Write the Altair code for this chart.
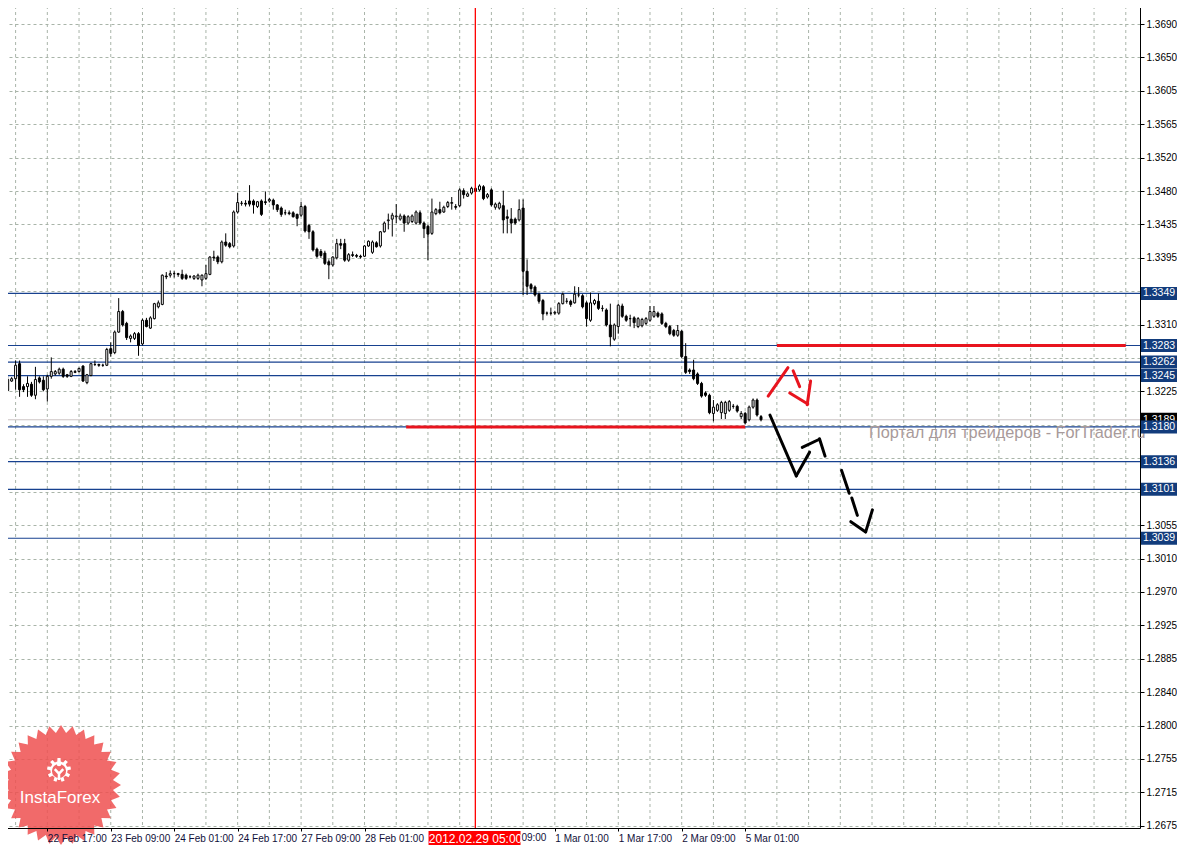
import math
import altair as alt
import pandas as pd

# ---------------- data (EURUSD H1, first bar = 22 Feb 07:00) ----------------
opens = [
    1.3226, 1.3238, 1.3241, 1.3260, 1.3231, 1.3231, 1.3234, 1.3220, 1.3242, 1.3239,
    1.3228, 1.3244, 1.3247, 1.3248, 1.3253, 1.3246, 1.3244, 1.3249, 1.3250, 1.3257,
    1.3236, 1.3245, 1.3259, 1.3259, 1.3258, 1.3258, 1.3279, 1.3274, 1.3300, 1.3326,
    1.3311, 1.3292, 1.3292, 1.3298, 1.3285, 1.3315, 1.3305, 1.3317, 1.3332, 1.3335,
    1.3371, 1.3372, 1.3374, 1.3374, 1.3373, 1.3372, 1.3370, 1.3368, 1.3368, 1.3366,
    1.3368, 1.3373, 1.3395, 1.3395, 1.3389, 1.3414, 1.3412, 1.3409, 1.3452, 1.3463,
    1.3463, 1.3466, 1.3466, 1.3459, 1.3466, 1.3465, 1.3466, 1.3467, 1.3461, 1.3457,
    1.3451, 1.3451, 1.3451, 1.3449, 1.3448, 1.3459, 1.3435, 1.3427, 1.3405, 1.3402,
    1.3400, 1.3389, 1.3385, 1.3394, 1.3412, 1.3412, 1.3391, 1.3398, 1.3397, 1.3396,
    1.3396, 1.3409, 1.3401, 1.3413, 1.3409, 1.3427, 1.3441, 1.3443, 1.3446, 1.3443,
    1.3447, 1.3438, 1.3440, 1.3438, 1.3451, 1.3438, 1.3434, 1.3425, 1.3450, 1.3455,
    1.3452, 1.3459, 1.3463, 1.3459, 1.3460, 1.3479, 1.3472, 1.3476, 1.3478, 1.3480,
    1.3484, 1.3471, 1.3480, 1.3458, 1.3457, 1.3460, 1.3446, 1.3443, 1.3443, 1.3442,
    1.3457, 1.3377, 1.3360, 1.3357, 1.3348, 1.3340, 1.3324, 1.3324, 1.3324, 1.3324,
    1.3336, 1.3339, 1.3339, 1.3337, 1.3347, 1.3346, 1.3337, 1.3315, 1.3336, 1.3339,
    1.3330, 1.3328, 1.3309, 1.3291, 1.3307, 1.3333, 1.3320, 1.3317, 1.3318, 1.3307,
    1.3308, 1.3311, 1.3315, 1.3320, 1.3324, 1.3323, 1.3311, 1.3307, 1.3302, 1.3296,
    1.3301, 1.3269, 1.3252, 1.3252, 1.3247, 1.3235, 1.3223, 1.3220, 1.3197, 1.3201,
    1.3198, 1.3197, 1.3201, 1.3206, 1.3206, 1.3193, 1.3197, 1.3189, 1.3205, 1.3214,
    1.3193,
]
highs = [
    1.3244, 1.3243, 1.3264, 1.3264, 1.3234, 1.3244, 1.3237, 1.3256, 1.3244, 1.3244,
    1.3246, 1.3268, 1.3252, 1.3255, 1.3255, 1.3247, 1.3252, 1.3252, 1.3255, 1.3258,
    1.3247, 1.3261, 1.3264, 1.3260, 1.3260, 1.3280, 1.3287, 1.3302, 1.3343, 1.3328,
    1.3313, 1.3297, 1.3300, 1.3300, 1.3317, 1.3318, 1.3320, 1.3337, 1.3340, 1.3373,
    1.3376, 1.3378, 1.3377, 1.3375, 1.3379, 1.3374, 1.3372, 1.3372, 1.3374, 1.3373,
    1.3385, 1.3396, 1.3403, 1.3397, 1.3416, 1.3425, 1.3414, 1.3454, 1.3476, 1.3466,
    1.3467, 1.3486, 1.3468, 1.3466, 1.3468, 1.3478, 1.3470, 1.3469, 1.3462, 1.3459,
    1.3455, 1.3454, 1.3453, 1.3450, 1.3465, 1.3461, 1.3437, 1.3429, 1.3407, 1.3405,
    1.3403, 1.3392, 1.3396, 1.3418, 1.3418, 1.3418, 1.3400, 1.3402, 1.3399, 1.3398,
    1.3410, 1.3416, 1.3416, 1.3415, 1.3428, 1.3440, 1.3450, 1.3451, 1.3462, 1.3450,
    1.3449, 1.3448, 1.3449, 1.3454, 1.3454, 1.3440, 1.3436, 1.3469, 1.3457, 1.3465,
    1.3460, 1.3466, 1.3471, 1.3462, 1.3482, 1.3482, 1.3477, 1.3484, 1.3484, 1.3487,
    1.3486, 1.3476, 1.3482, 1.3464, 1.3465, 1.3479, 1.3455, 1.3457, 1.3445, 1.3468,
    1.3468, 1.3392, 1.3362, 1.3359, 1.3350, 1.3342, 1.3326, 1.3331, 1.3327, 1.3338,
    1.3350, 1.3343, 1.3341, 1.3358, 1.3357, 1.3348, 1.3339, 1.3350, 1.3342, 1.3349,
    1.3334, 1.3330, 1.3336, 1.3311, 1.3336, 1.3336, 1.3322, 1.3322, 1.3320, 1.3319,
    1.3318, 1.3319, 1.3333, 1.3333, 1.3326, 1.3325, 1.3313, 1.3309, 1.3304, 1.3309,
    1.3303, 1.3286, 1.3254, 1.3265, 1.3249, 1.3237, 1.3225, 1.3222, 1.3214, 1.3210,
    1.3213, 1.3213, 1.3214, 1.3209, 1.3208, 1.3200, 1.3199, 1.3207, 1.3216, 1.3216,
    1.3195,
]
lows = [
    1.3225, 1.3237, 1.3227, 1.3218, 1.3224, 1.3218, 1.3218, 1.3215, 1.3235, 1.3225,
    1.3212, 1.3241, 1.3245, 1.3246, 1.3242, 1.3242, 1.3243, 1.3248, 1.3249, 1.3237,
    1.3234, 1.3244, 1.3257, 1.3256, 1.3256, 1.3257, 1.3269, 1.3272, 1.3299, 1.3307,
    1.3290, 1.3287, 1.3290, 1.3270, 1.3283, 1.3306, 1.3304, 1.3316, 1.3330, 1.3334,
    1.3367, 1.3369, 1.3369, 1.3370, 1.3366, 1.3366, 1.3368, 1.3366, 1.3366, 1.3358,
    1.3366, 1.3372, 1.3390, 1.3386, 1.3387, 1.3408, 1.3406, 1.3407, 1.3450, 1.3460,
    1.3459, 1.3459, 1.3450, 1.3457, 1.3447, 1.3461, 1.3464, 1.3455, 1.3452, 1.3446,
    1.3448, 1.3448, 1.3445, 1.3434, 1.3446, 1.3426, 1.3418, 1.3402, 1.3394, 1.3394,
    1.3385, 1.3367, 1.3383, 1.3392, 1.3405, 1.3389, 1.3389, 1.3395, 1.3394, 1.3393,
    1.3395, 1.3408, 1.3399, 1.3407, 1.3407, 1.3426, 1.3430, 1.3421, 1.3438, 1.3441,
    1.3427, 1.3436, 1.3438, 1.3436, 1.3436, 1.3419, 1.3391, 1.3423, 1.3448, 1.3449,
    1.3451, 1.3457, 1.3455, 1.3455, 1.3458, 1.3469, 1.3471, 1.3474, 1.3477, 1.3478,
    1.3467, 1.3469, 1.3459, 1.3455, 1.3455, 1.3425, 1.3425, 1.3425, 1.3436, 1.3440,
    1.3347, 1.3347, 1.3350, 1.3345, 1.3336, 1.3315, 1.3321, 1.3321, 1.3322, 1.3322,
    1.3335, 1.3336, 1.3332, 1.3336, 1.3344, 1.3330, 1.3307, 1.3313, 1.3334, 1.3328,
    1.3326, 1.3307, 1.3282, 1.3289, 1.3298, 1.3318, 1.3313, 1.3307, 1.3305, 1.3305,
    1.3306, 1.3309, 1.3313, 1.3318, 1.3318, 1.3309, 1.3305, 1.3296, 1.3294, 1.3294,
    1.3267, 1.3247, 1.3247, 1.3239, 1.3233, 1.3217, 1.3218, 1.3196, 1.3187, 1.3199,
    1.3190, 1.3190, 1.3199, 1.3203, 1.3198, 1.3190, 1.3183, 1.3187, 1.3203, 1.3193,
    1.3187,
]
closes = [
    1.3240, 1.3241, 1.3258, 1.3227, 1.3227, 1.3235, 1.3220, 1.3240, 1.3237, 1.3227,
    1.3244, 1.3250, 1.3250, 1.3253, 1.3244, 1.3244, 1.3250, 1.3250, 1.3254, 1.3238,
    1.3246, 1.3260, 1.3259, 1.3258, 1.3258, 1.3278, 1.3273, 1.3300, 1.3326, 1.3309,
    1.3293, 1.3295, 1.3298, 1.3283, 1.3315, 1.3307, 1.3318, 1.3336, 1.3337, 1.3372,
    1.3370, 1.3374, 1.3374, 1.3373, 1.3368, 1.3368, 1.3370, 1.3371, 1.3372, 1.3372,
    1.3374, 1.3395, 1.3394, 1.3389, 1.3414, 1.3410, 1.3408, 1.3452, 1.3464, 1.3463,
    1.3462, 1.3462, 1.3461, 1.3465, 1.3449, 1.3464, 1.3468, 1.3461, 1.3455, 1.3449,
    1.3451, 1.3450, 1.3446, 1.3444, 1.3459, 1.3428, 1.3427, 1.3404, 1.3396, 1.3397,
    1.3387, 1.3385, 1.3395, 1.3412, 1.3410, 1.3391, 1.3398, 1.3397, 1.3396, 1.3395,
    1.3409, 1.3415, 1.3414, 1.3408, 1.3427, 1.3438, 1.3442, 1.3448, 1.3447, 1.3447,
    1.3438, 1.3446, 1.3447, 1.3452, 1.3438, 1.3431, 1.3424, 1.3452, 1.3455, 1.3451,
    1.3458, 1.3464, 1.3464, 1.3458, 1.3480, 1.3474, 1.3475, 1.3482, 1.3482, 1.3485,
    1.3469, 1.3474, 1.3461, 1.3462, 1.3463, 1.3442, 1.3444, 1.3438, 1.3438, 1.3455,
    1.3377, 1.3358, 1.3355, 1.3347, 1.3339, 1.3323, 1.3324, 1.3324, 1.3325, 1.3336,
    1.3348, 1.3339, 1.3335, 1.3348, 1.3347, 1.3332, 1.3317, 1.3337, 1.3340, 1.3330,
    1.3330, 1.3309, 1.3294, 1.3309, 1.3334, 1.3320, 1.3315, 1.3317, 1.3312, 1.3317,
    1.3316, 1.3317, 1.3326, 1.3326, 1.3320, 1.3311, 1.3307, 1.3298, 1.3296, 1.3302,
    1.3269, 1.3249, 1.3250, 1.3241, 1.3235, 1.3219, 1.3220, 1.3198, 1.3205, 1.3208,
    1.3211, 1.3211, 1.3212, 1.3206, 1.3200, 1.3197, 1.3185, 1.3205, 1.3214, 1.3195,
    1.3189,
]

level_prices = [1.3349, 1.3283, 1.3262, 1.3245, 1.3180, 1.3136, 1.3101, 1.3039]
level_labels = ["1.3349", "1.3283", "1.3262", "1.3245", "1.3180", "1.3136", "1.3101", "1.3039"]
bid_price = [1.3189]
bid_label = ["1.3189"]

red_h_start = [194, 100.5]
red_h_end = [282, 186]
red_h_price = [1.3283, 1.3180]

cursor_bar = [118]
cursor_label = ["2012.02.29 05:00"]

red_arrow_x1 = [191.8, 198.1, 197.25, 202.5]
red_arrow_x2 = [196.8, 199.75, 201.8, 201.65]
red_arrow_y1 = [1.3219, 1.3251, 1.3223, 1.3238]
red_arrow_y2 = [1.3255, 1.3231, 1.3209, 1.3208]

black_arrow_x1 = [192.25, 198.9, 200.4, 204.75, 210.3, 212.9, 212.65, 216.4]
black_arrow_x2 = [198.9, 202.25, 204.6, 206.15, 212.25, 214.3, 216.4, 218.1]
black_arrow_y1 = [1.3195, 1.3118, 1.3154, 1.3165, 1.3125, 1.3090, 1.3060, 1.3047]
black_arrow_y2 = [1.3118, 1.3148, 1.3164, 1.3143, 1.3096, 1.3068, 1.3047, 1.3075]

y_tick_values = [1.26750, 1.27173, 1.27596, 1.28019, 1.28442, 1.28865, 1.29288, 1.29710,
                 1.30133, 1.30556, 1.30979, 1.31402, 1.31825, 1.32248, 1.32671, 1.33094,
                 1.33517, 1.33940, 1.34363, 1.34785, 1.35208, 1.35631, 1.36054, 1.36477,
                 1.36900]
# labels covered by the level boxes in the original are left blank
y_tick_labels = ["1.2675", "1.2715", "1.2755", "1.2800", "1.2840", "1.2885", "1.2925", "1.2970",
                 "1.3010", "1.3055", "", "", "", "1.3225", "", "1.3310",
                 "", "1.3395", "1.3435", "1.3480", "1.3520", "1.3565", "1.3605", "1.3650",
                 "1.3690"]

x_tick_bars = [10, 26, 42, 58, 74, 90, 138, 154, 170, 186]
x_tick_labels = ["22 Feb 17:00", "23 Feb 09:00", "24 Feb 01:00", "24 Feb 17:00", "27 Feb 09:00",
                 "28 Feb 01:00", "1 Mar 01:00", "1 Mar 17:00", "2 Mar 09:00", "5 Mar 01:00"]
x_partial_bars = [122]
x_partial_labels = ["09:00"]
v_grid_bars = list(range(2, 284, 8))

watermark = "Портал для трейдеров - ForTrader.ru"
logo_text = "InstaForex"

# ---------------- styling ----------------
FONT = "Liberation Sans"
GRID = "#A9B4A9"
NAVY = "#17418F"
BOX = "#123C7C"
RED = "#E8141E"
W, H = 1140, 828

xs = alt.Scale(domain=[-0.675, 284.325], nice=False, zero=False)
ys = alt.Scale(domain=[1.26722, 1.37204], nice=False, zero=False)

x_expr = "[" + ",".join("'%s'" % s for s in x_tick_labels) + "][indexof([" + \
    ",".join(str(v) for v in x_tick_bars) + "], datum.value)]"
y_expr = "[" + ",".join("'%s'" % s for s in y_tick_labels) + "][round((datum.value - 1.2675) / 0.0042291667)]"

x_axis = alt.Axis(values=x_tick_bars, labelExpr=x_expr, orient="bottom", grid=False,
                  tickSize=3, tickColor="black", domainColor="black", labelAlign="left",
                  labelBaseline="top", labelPadding=2, labelFont=FONT, labelFontSize=10,
                  labelColor="#10103A", labelOverlap=False, labelFlush=False, zindex=1, title="")
y_axis = alt.Axis(values=y_tick_values, labelExpr=y_expr, orient="right", grid=True,
                  gridDash=[3, 3], gridColor=GRID, gridWidth=1, tickSize=4, tickColor="black",
                  domainColor="black", labelPadding=2, labelFont=FONT, labelFontSize=10,
                  labelColor="black", labelOverlap=False, labelFlush=False, zindex=0, title="")


def X(field):
    return alt.X(field, type="quantitative", scale=xs, axis=x_axis)


def Y(field):
    return alt.Y(field, type="quantitative", scale=ys, axis=y_axis)


candles = pd.DataFrame({"bar": list(range(len(opens))), "open": opens, "high": highs,
                        "low": lows, "close": closes})
levels = pd.DataFrame({"price": level_prices, "label": level_labels})
bid = pd.DataFrame({"price": bid_price, "label": bid_label})
red_h = pd.DataFrame({"b1": red_h_start, "b2": red_h_end, "price": red_h_price})
cursor = pd.DataFrame({"bar": cursor_bar, "label": cursor_label})
red_arrow = pd.DataFrame({"x1": red_arrow_x1, "x2": red_arrow_x2, "y1": red_arrow_y1, "y2": red_arrow_y2})
black_arrow = pd.DataFrame({"x1": black_arrow_x1, "x2": black_arrow_x2, "y1": black_arrow_y1, "y2": black_arrow_y2})
vgrid = pd.DataFrame({"bar": v_grid_bars})
partial = pd.DataFrame({"bar": x_partial_bars, "label": x_partial_labels})
one = pd.DataFrame({"k": [0]})

wicks = alt.Chart(candles).mark_rule(strokeWidth=1, color="black").encode(
    x=X("bar"), y=Y("low"), y2="high")

vgrid_l = alt.Chart(vgrid).mark_rule(color=GRID, strokeDash=[3, 3], strokeWidth=1).encode(x=X("bar"))
bid_l = alt.Chart(bid).mark_rule(color="#CBC3C3", strokeWidth=1).encode(y=Y("price"))
level_l = alt.Chart(levels).mark_rule(color=NAVY, strokeWidth=1.2).encode(y=Y("price"))
cursor_l = alt.Chart(cursor).mark_rule(color="#FF0000", strokeWidth=1.3, opacity=1, xOffset=-0.2).encode(
    x=X("bar"), y=alt.value(0), y2=alt.value(H))
red_h_l = alt.Chart(red_h).mark_rule(color=RED, strokeWidth=3).encode(x=X("b1"), x2="b2", y=Y("price"))

bodies = alt.Chart(candles).mark_bar(size=2, stroke="black", strokeWidth=1).encode(
    x=X("bar"), y=Y("open"), y2="close",
    fill=alt.condition("datum.close >= datum.open", alt.value("white"), alt.value("black")))

red_arrow_l = alt.Chart(red_arrow).mark_rule(color=RED, strokeWidth=3, strokeCap="round").encode(
    x=X("x1"), x2="x2", y=Y("y1"), y2="y2")
black_arrow_l = alt.Chart(black_arrow).mark_rule(color="black", strokeWidth=3, strokeCap="round").encode(
    x=X("x1"), x2="x2", y=Y("y1"), y2="y2")

wm = alt.Chart(one).mark_text(text=watermark, align="left", baseline="middle", font=FONT,
                              fontSize=16.3, color="#A89A9A").encode(x=alt.value(869), y=alt.value(433))

# InstaForex badge
N = 32
pts = []
for k in range(2 * N):
    r = 1.0 if k % 2 == 0 else 0.87
    a = k * math.pi / N
    pts.append("%.3f,%.3f" % (r * math.sin(a), -r * math.cos(a)))
star_path = "M" + "L".join(pts) + "Z"
gpts = []
T = 9
for k in range(T):
    b = 2 * math.pi * k / T
    for da, r in ((-0.2, 0.72), (-0.13, 1.0), (0.13, 1.0), (0.2, 0.72)):
        gpts.append("%.3f,%.3f" % (r * math.sin(b + da), -r * math.cos(b + da)))
gear_path = "M" + "L".join(gpts) + "Z"
person_path = "M-0.6,-0.55L0,0.1L0.6,-0.55M0,0.1L0,1"

star = alt.Chart(one).mark_point(shape=star_path, filled=True, color="#EE5050", opacity=0.85,
                                 size=14400, strokeWidth=0).encode(x=alt.value(61), y=alt.value(785))
gear = alt.Chart(one).mark_point(shape=gear_path, filled=True, color="white", opacity=1,
                                 size=576, strokeWidth=0).encode(x=alt.value(59), y=alt.value(770))
hole = alt.Chart(one).mark_point(shape="circle", filled=True, color="#F06767", opacity=1,
                                 size=200, strokeWidth=0).encode(x=alt.value(59), y=alt.value(771))
person = alt.Chart(one).mark_point(shape=person_path, filled=False, color="white", opacity=1,
                                   size=200, strokeWidth=2.5).encode(x=alt.value(59), y=alt.value(773))
head = alt.Chart(one).mark_point(shape="circle", filled=True, color="white", opacity=1,
                                 size=22, strokeWidth=0).encode(x=alt.value(59), y=alt.value(764))
logo_t = alt.Chart(one).mark_text(text=logo_text, font=FONT, fontSize=17, color="white",
                                  align="center", baseline="middle").encode(x=alt.value(60), y=alt.value(798))

# price boxes on the right
bid_box = alt.Chart(bid).mark_rect(color="black", yOffset=-7, y2Offset=6).encode(
    x=alt.value(1141), x2=alt.value(1177), y=Y("price"), y2="price")
bid_txt = alt.Chart(bid).mark_text(color="white", font=FONT, fontSize=10.5, align="left",
                                   baseline="middle").encode(x=alt.value(1143), y=Y("price"), text="label")
lvl_box = alt.Chart(levels).mark_rect(color=BOX, yOffset=-6.5, y2Offset=6.5).encode(
    x=alt.value(1141), x2=alt.value(1177), y=Y("price"), y2="price")
lvl_txt = alt.Chart(levels).mark_text(color="white", font=FONT, fontSize=10.5, align="left",
                                      baseline="middle").encode(x=alt.value(1143), y=Y("price"), text="label")

# partly visible x-axis label next to the cursor date box
partial_t = alt.Chart(partial).mark_text(font=FONT, fontSize=10, color="#10103A", align="left",
                                         baseline="top", dx=30).encode(x=X("bar"), y=alt.value(833), text="label")
cur_box = alt.Chart(cursor).mark_rect(color="#FF0000", xOffset=-47, x2Offset=45).encode(
    x=X("bar"), x2="bar", y=alt.value(831), y2=alt.value(845))
cur_txt = alt.Chart(cursor).mark_text(font=FONT, fontSize=12, color="white", align="center",
                                      baseline="middle").encode(x=X("bar"), y=alt.value(838.5), text="label")

chart = alt.layer(
    vgrid_l, bid_l, level_l, red_h_l, wicks, bodies, cursor_l, red_arrow_l, black_arrow_l,
    wm, star, gear, hole, person, head, logo_t, bid_box, bid_txt, lvl_box, lvl_txt,
    partial_t, cur_box, cur_txt,
).properties(
    width=W, height=H,
    autosize=alt.AutoSizeParams(type="none"),
    padding={"left": -8, "top": -8, "right": 37, "bottom": 17},
    background="white",
).configure_view(strokeWidth=0)

chart.save("out.html", embed_options={"renderer": "svg", "actions": False})
